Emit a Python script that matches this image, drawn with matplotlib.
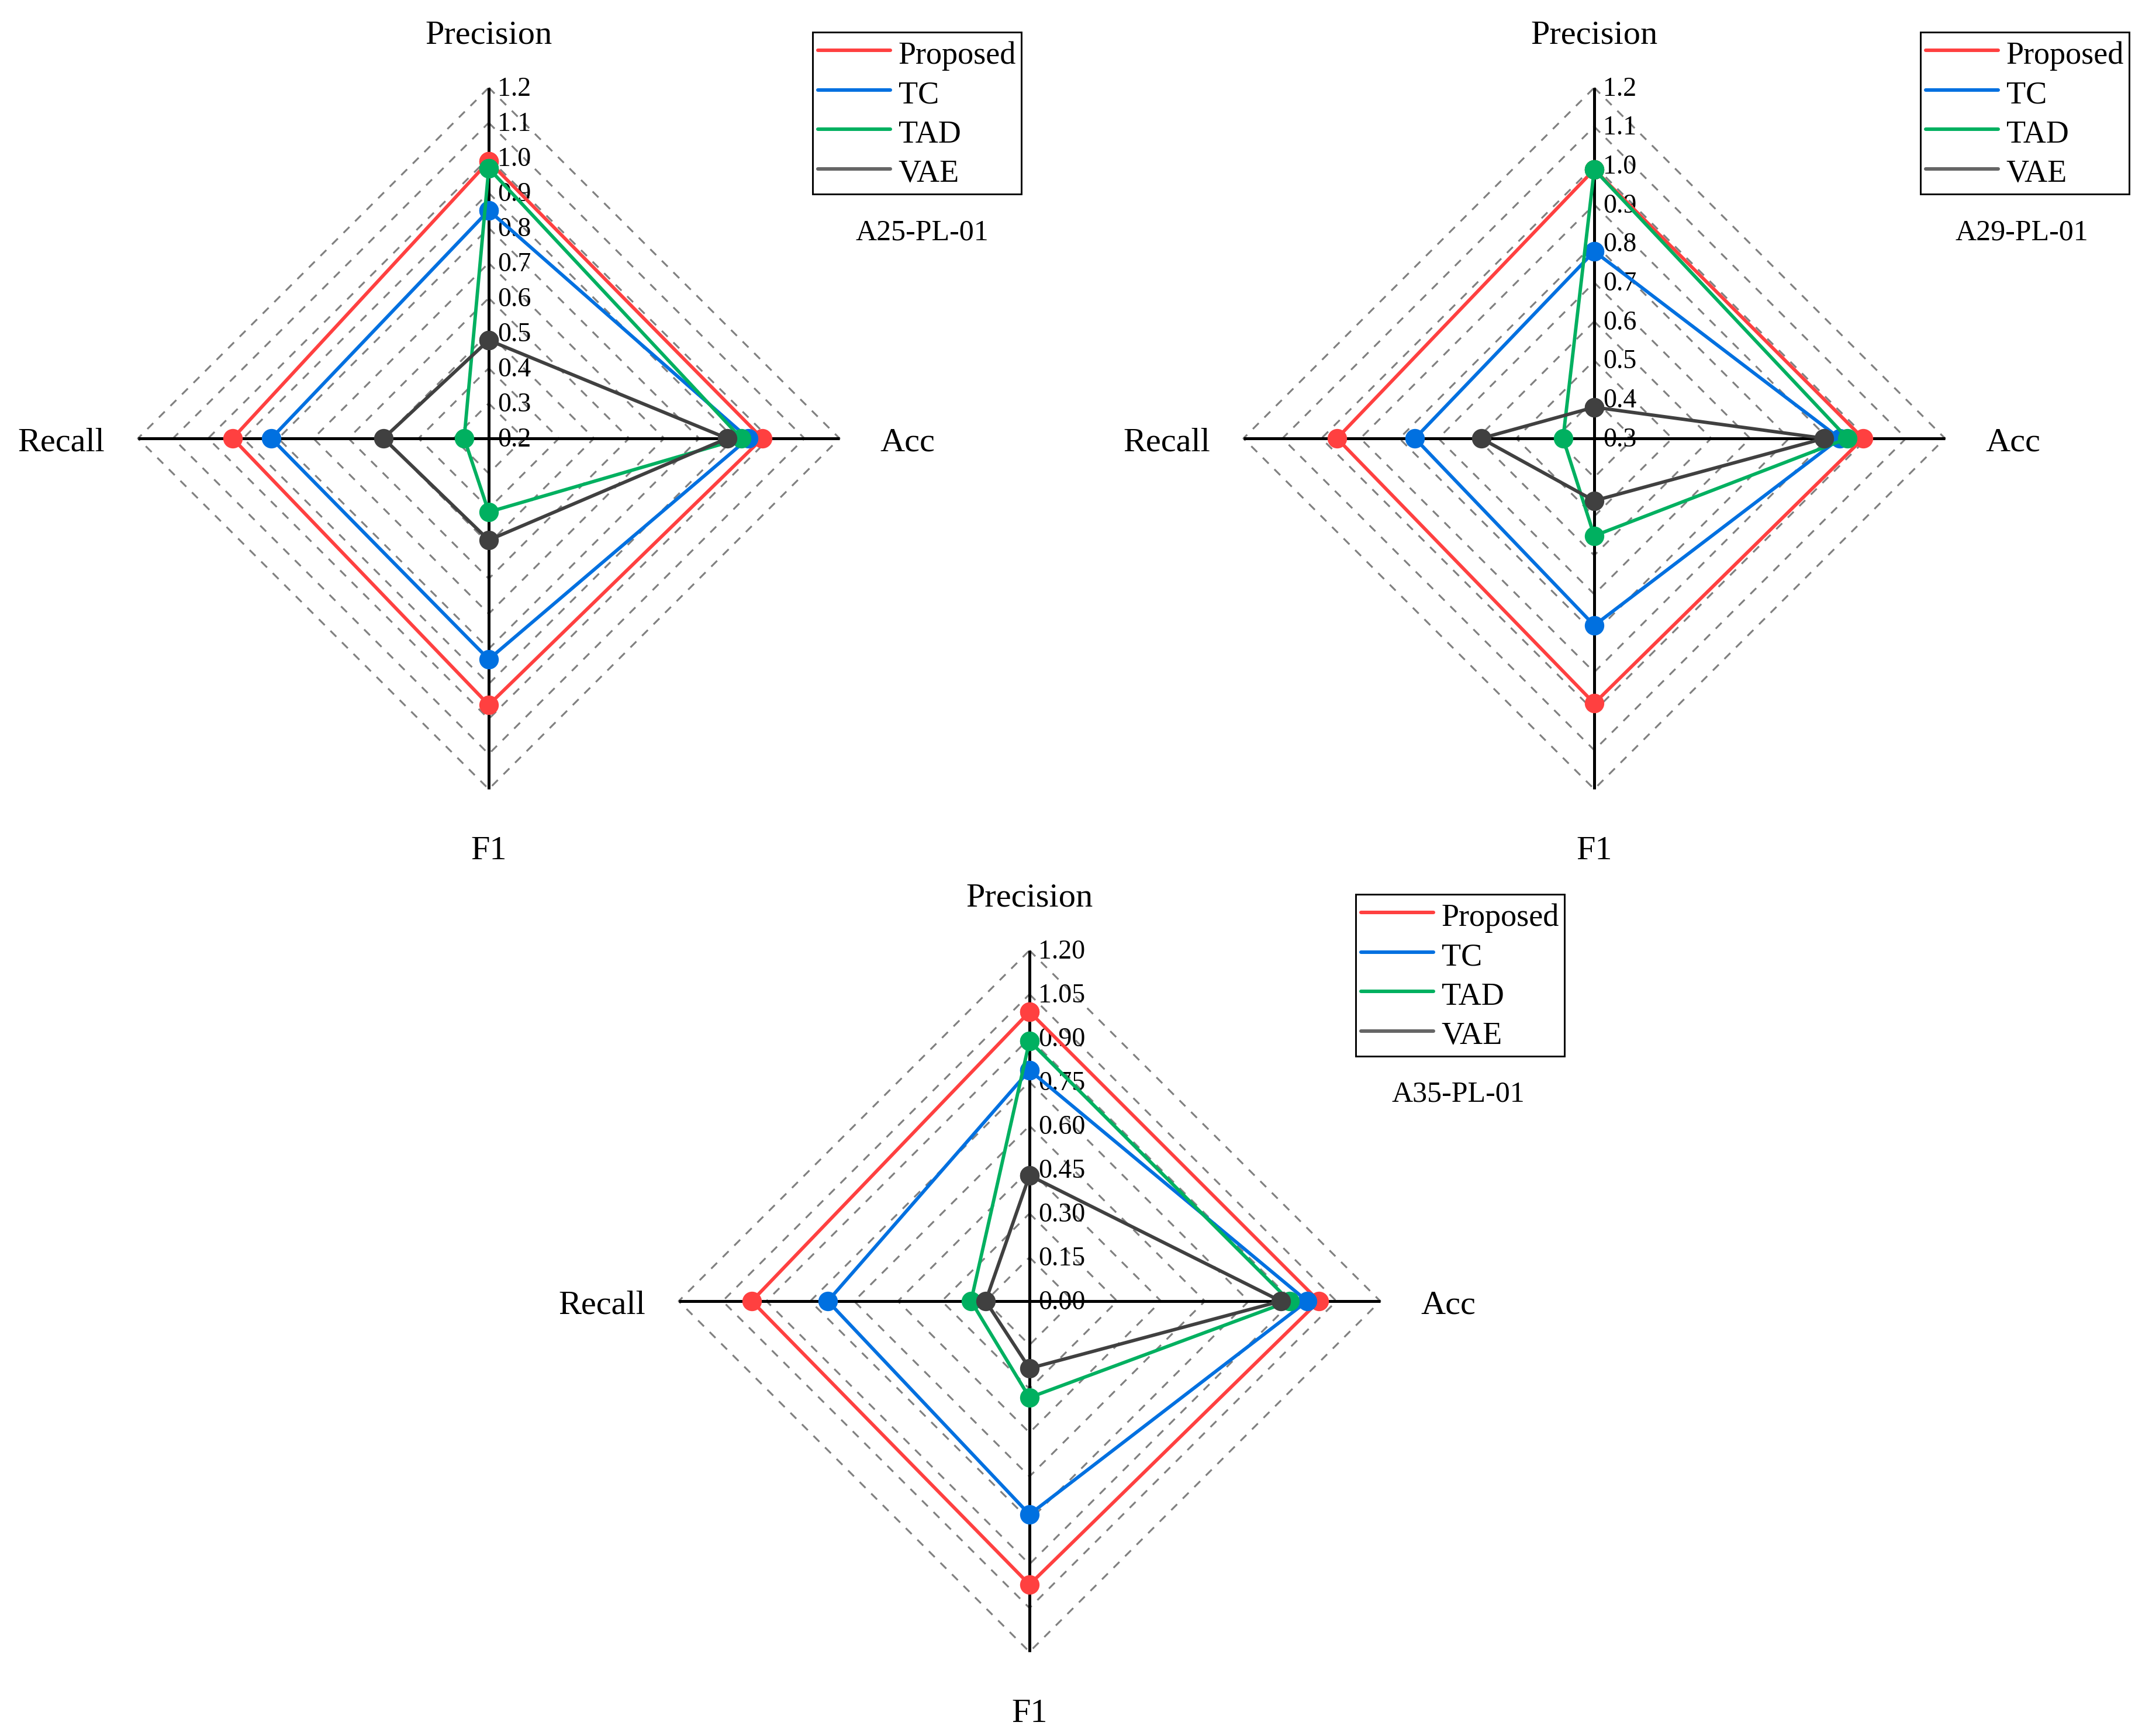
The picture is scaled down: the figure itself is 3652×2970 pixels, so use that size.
import numpy as np
import matplotlib
matplotlib.use("Agg")
import matplotlib.pyplot as plt
from matplotlib.lines import Line2D

plt.rcParams['font.family'] = ['Liberation Serif', 'DejaVu Serif']
plt.rcParams['lines.scale_dashes'] = False

# ---------------- data ----------------
categories = ["Precision", "Acc", "F1", "Recall"]
methods = ["Proposed", "TC", "TAD", "VAE"]
datasets = ["A25-PL-01", "A29-PL-01", "A35-PL-01"]

# values ordered as categories: Precision, Acc, F1, Recall
a25_proposed = [0.99, 0.98, 0.96, 0.93]
a25_tc       = [0.85, 0.94, 0.83, 0.82]
a25_tad      = [0.97, 0.92, 0.41, 0.27]
a25_vae      = [0.48, 0.88, 0.49, 0.50]

a29_proposed = [0.99, 0.99, 0.98, 0.96]
a29_tc       = [0.78, 0.93, 0.78, 0.76]
a29_tad      = [0.99, 0.95, 0.55, 0.38]
a29_vae      = [0.38, 0.89, 0.46, 0.59]

a35_proposed = [0.99, 0.99, 0.97, 0.95]
a35_tc       = [0.79, 0.95, 0.73, 0.69]
a35_tad      = [0.89, 0.89, 0.33, 0.20]
a35_vae      = [0.43, 0.86, 0.23, 0.15]

a25_ticks = [0.2, 0.3, 0.4, 0.5, 0.6, 0.7, 0.8, 0.9, 1.0, 1.1, 1.2]
a25_tick_labels = ["0.2", "0.3", "0.4", "0.5", "0.6", "0.7", "0.8", "0.9", "1.0", "1.1", "1.2"]
a29_ticks = [0.3, 0.4, 0.5, 0.6, 0.7, 0.8, 0.9, 1.0, 1.1, 1.2]
a29_tick_labels = ["0.3", "0.4", "0.5", "0.6", "0.7", "0.8", "0.9", "1.0", "1.1", "1.2"]
a35_ticks = [0.00, 0.15, 0.30, 0.45, 0.60, 0.75, 0.90, 1.05, 1.20]
a35_tick_labels = ["0.00", "0.15", "0.30", "0.45", "0.60", "0.75", "0.90", "1.05", "1.20"]

colors = ["#FF4040", "#0070E0", "#00B060", "#404040"]
legend_colors = ["#FF4040", "#0070E0", "#00B060", "#666666"]

# ---------------- layout ----------------
W, H = 3653, 2970
DPI = 300
fig = plt.figure(figsize=(W / DPI, H / DPI), dpi=DPI)

R = 600.0      # radius of outer ring in px
HALF = 760.0   # half side of each axes in px
centers = [(836, 750), (2727, 750), (1761, 2226)]
legend_tl = [(1390, 55), (3285, 55), (2319, 1530)]
title_pos = [(1577, 398), (3458, 398), (2494, 1872)]

angles = np.deg2rad([90, 0, 270, 180])

panels = [
    ([a25_proposed, a25_tc, a25_tad, a25_vae], a25_ticks, a25_tick_labels),
    ([a29_proposed, a29_tc, a29_tad, a29_vae], a29_ticks, a29_tick_labels),
    ([a35_proposed, a35_tc, a35_tad, a35_vae], a35_ticks, a35_tick_labels),
]

for idx, (series, ticks, tlabels) in enumerate(panels):
    cx, cy = centers[idx]
    ax = fig.add_axes([(cx - HALF) / W, 1 - (cy + HALF) / H, 2 * HALF / W, 2 * HALF / H])
    lim = HALF / R
    ax.set_xlim(-lim, lim)
    ax.set_ylim(-lim, lim)
    ax.axis('off')
    vmin, vmax = ticks[0], ticks[-1]

    def rad(v):
        return (np.asarray(v, dtype=float) - vmin) / (vmax - vmin)

    ang_c = np.r_[angles, angles[0]]
    # dashed diamond grid
    for t in ticks[1:]:
        r = rad(t)
        ax.plot(r * np.cos(ang_c), r * np.sin(ang_c), ls=(0, (3.4, 3.3)),
                color='#808080', lw=0.75, zorder=1)
    # axis spokes
    for a in angles:
        ax.plot([0, np.cos(a)], [0, np.sin(a)], color='black', lw=1.2, zorder=2,
                solid_capstyle='butt')
    # radial tick labels
    for t, lab in zip(ticks, tlabels):
        ax.text(0.025, rad(t) - 0.004, lab, ha='left', va='center', fontsize=11, zorder=3)
    # series
    for vals, col in zip(series, colors):
        r = rad(vals)
        rc = np.r_[r, r[0]]
        ax.plot(rc * np.cos(ang_c), rc * np.sin(ang_c), color=col, lw=1.4,
                marker='o', ms=7, zorder=4)
    # axis labels
    ax.text(0, 1.149, categories[0], ha='center', va='center', fontsize=14)
    ax.text(1.115, -0.012, categories[1], ha='left', va='center', fontsize=14)
    ax.text(0, -1.176, categories[2], ha='center', va='center', fontsize=14)
    ax.text(-1.095, -0.012, categories[3], ha='right', va='center', fontsize=14)

    # legend
    handles = [Line2D([], [], color=c, lw=1.45, solid_capstyle='round') for c in legend_colors]
    lx, ly = legend_tl[idx]
    leg = fig.legend(handles, methods, loc='upper left',
                     bbox_to_anchor=(lx / W, 1 - ly / H), bbox_transform=fig.transFigure,
                     frameon=True, fancybox=False, edgecolor='black', framealpha=1,
                     fontsize=13, handlelength=2.3, handleheight=1.15, handletextpad=0.25,
                     labelspacing=0.19, borderpad=0.16, borderaxespad=0)
    leg.get_frame().set_linewidth(0.7)
    # dataset title
    tx, ty = title_pos[idx]
    fig.text(tx / W, 1 - ty / H, datasets[idx], ha='center', va='center', fontsize=12)

fig.savefig("out.png", dpi=DPI)
